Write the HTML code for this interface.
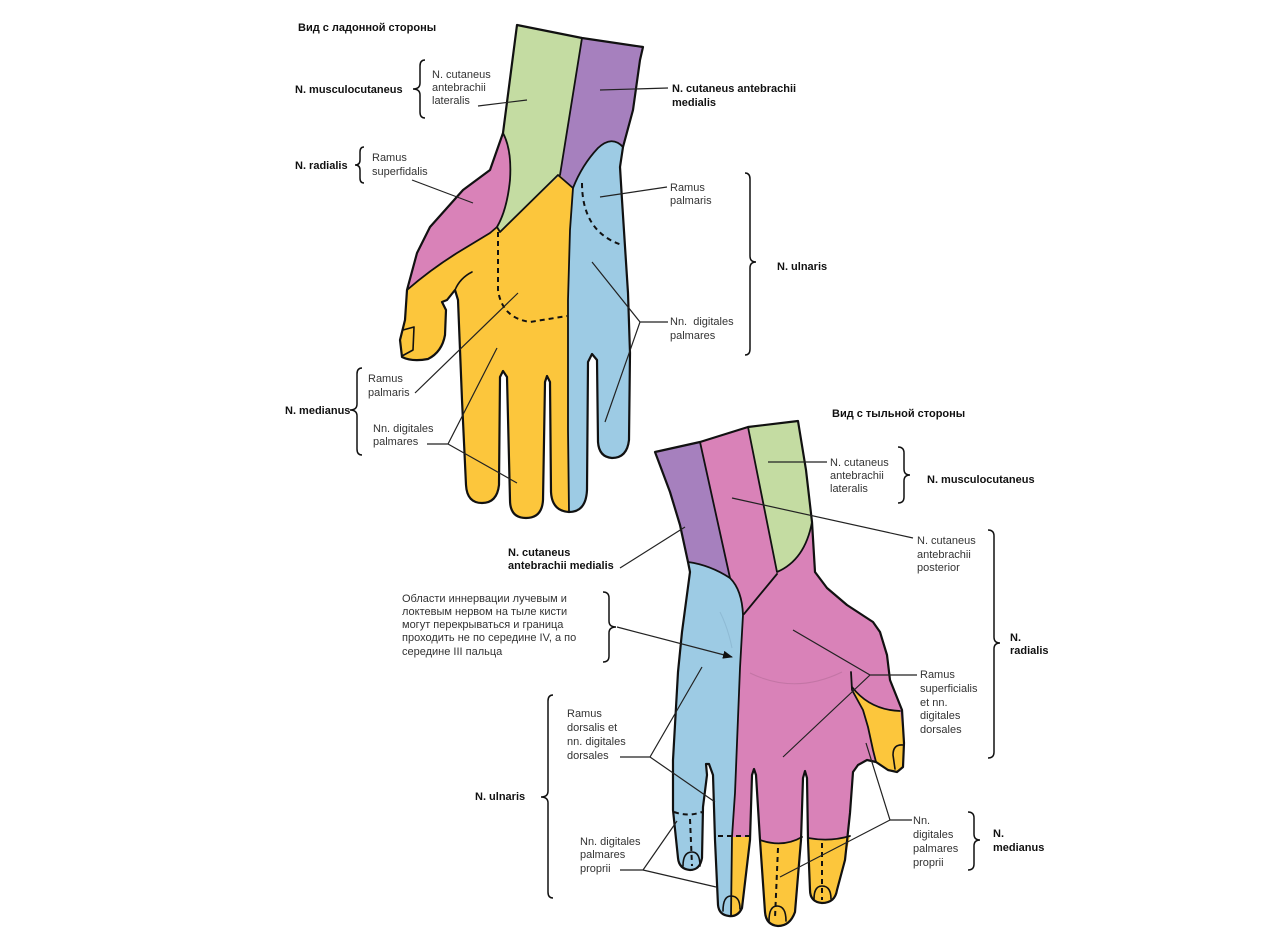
<!DOCTYPE html>
<html>
<head>
<meta charset="utf-8">
<style>
  html,body{margin:0;padding:0;background:#fff;}
  svg{display:block;}
  text{font-family:"Liberation Sans","DejaVu Sans",sans-serif;font-size:11px;fill:#333;}
  text.b{font-weight:bold;fill:#111;}
</style>
</head>
<body>
<svg width="1280" height="943" viewBox="0 0 1280 943" xmlns="http://www.w3.org/2000/svg">
  <defs>
    <marker id="ah" markerWidth="10" markerHeight="8" refX="9" refY="4" orient="auto" markerUnits="userSpaceOnUse">
      <path d="M0,0 L10,4 L0,8 Z" fill="#111"/>
    </marker>
  </defs>
  <rect width="1280" height="943" fill="#fff"/>

  <!-- ================= TOP HAND (palmar) ================= -->
  <g stroke="none">
    <path fill="#fcc63c" d="M517,25 L582,38 L643,47 L640,60 L633,110 L623,147 L620,167 L622,200 L628,293 L630,353 L629,440 Q627,458 612,458 Q599,457 598,442 L597,360 L592,354 L588,362 L587,490 Q586,512 569,512 Q552,511 551,492 L550,382 L547,376 L545,382 L543,500 Q542,518 526,518 Q510,518 510,500 L507,377 L503,371 L500,377 L499,485 Q497,503 482,503 Q467,503 466,485 L462,400 L458,300 L455,290 L447,300 L442,302 L446,310 L445,335 Q442,352 428,359 Q412,362 402,357 L400,340 L405,320 L407,290 L417,253 L430,227 L463,190 L490,170 L503,133 Z"/>
    <path fill="#c4dca2" d="M517,25 L582,38 L560,175 L500,232 L497,227 Q507,210 510,180 Q512,150 503,133 Z"/>
    <path fill="#a680be" d="M582,38 L643,47 L640,60 L633,110 L623,147 Q612,135 598,148 Q582,165 573,188 L560,175 Z"/>
    <path fill="#9dcbe4" d="M573,188 Q582,165 598,148 Q612,135 623,147 L620,167 L622,200 L628,293 L630,353 L629,440 Q627,458 612,458 Q599,457 598,442 L597,360 L592,354 L588,362 L587,490 Q586,512 569,512 L568,430 L568,300 L570,230 Z"/>
    <path fill="#d982b8" d="M503,133 Q512,150 510,180 Q507,210 497,227 L490,233 L457,253 Q430,270 407,290 L417,253 L430,227 L463,190 L490,170 Z"/>
  </g>
  <g fill="none" stroke="#111" stroke-linejoin="round" stroke-linecap="round">
    <path stroke-width="2.2" d="M517,25 L582,38 L643,47 L640,60 L633,110 L623,147 L620,167 L622,200 L628,293 L630,353 L629,440 Q627,458 612,458 Q599,457 598,442 L597,360 L592,354 L588,362 L587,490 Q586,512 569,512 Q552,511 551,492 L550,382 L547,376 L545,382 L543,500 Q542,518 526,518 Q510,518 510,500 L507,377 L503,371 L500,377 L499,485 Q497,503 482,503 Q467,503 466,485 L462,400 L458,300 L455,290 L447,300 L442,302 L446,310 L445,335 Q442,352 428,359 Q412,362 402,357 L400,340 L405,320 L407,290 L417,253 L430,227 L463,190 L490,170 L503,133 Z"/>
    <path stroke-width="1.8" d="M582,38 L560,175"/>
    <path stroke-width="1.8" d="M503,133 Q512,150 510,180 Q507,210 497,227 L500,232 L558,175 L573,188"/>
    <path stroke-width="1.8" d="M623,147 Q612,135 598,148 Q582,165 573,188 L570,230 L568,300 L568,430 L569,512"/>
    <path stroke-width="1.8" d="M407,290 Q430,270 457,253 L490,233 L497,227"/>
    <path stroke-width="1.6" d="M455,290 Q460,278 472,272"/>
    <path stroke-width="1.6" d="M403,330 L414,327 L413,350 L402,356"/>
    <path stroke-width="2" stroke-dasharray="5 4" stroke-linecap="butt" d="M498,232 L498,290 Q502,318 530,322 L567,316"/>
    <path stroke-width="2" stroke-dasharray="5 4" stroke-linecap="butt" d="M582,183 Q582,232 622,245"/>
  </g>

  <!-- top leaders -->
  <g fill="none" stroke="#222" stroke-width="1.2">
    <path d="M478,106 L527,100"/>
    <path d="M600,90 L668,88"/>
    <path d="M412,180 L473,203"/>
    <path d="M600,197 L667,187"/>
    <path d="M592,262 L640,322 L605,422 M640,322 L668,322"/>
    <path d="M415,393 L518,293"/>
    <path d="M427,444 L448,444 L497,348 M448,444 L517,483"/>
  </g>
  <!-- top braces -->
  <g fill="none" stroke="#111" stroke-width="1.5">
    <path d="M425,60 Q420,60 420,66 L420,83 Q420,89 413,89 Q420,89 420,95 L420,112 Q420,118 425,118"/>
    <path d="M364,147 Q360,147 360,152 L360,160 Q360,165 355,165 Q360,165 360,170 L360,178 Q360,183 364,183"/>
    <path d="M362,368 Q357,368 357,374 L357,404 Q357,410 350,410 Q357,410 357,416 L357,449 Q357,455 362,455"/>
    <path d="M745,173 Q750,173 750,179 L750,256 Q750,262 756,262 Q750,262 750,268 L750,349 Q750,355 745,355"/>
  </g>
  <!-- top texts -->
  <text class="b" x="298" y="31">Вид с ладонной стороны</text>
  <text class="b" x="295" y="93">N. musculocutaneus</text>
  <text x="432" y="78">N. cutaneus</text>
  <text x="432" y="91">antebrachii</text>
  <text x="432" y="104">lateralis</text>
  <text class="b" x="295" y="169">N. radialis</text>
  <text x="372" y="161">Ramus</text>
  <text x="372" y="175">superfidalis</text>
  <text class="b" x="672" y="92">N. cutaneus antebrachii</text>
  <text class="b" x="672" y="106">medialis</text>
  <text x="670" y="191">Ramus</text>
  <text x="670" y="204">palmaris</text>
  <text class="b" x="777" y="270">N. ulnaris</text>
  <text x="670" y="325" xml:space="preserve">Nn.  digitales</text>
  <text x="670" y="339">palmares</text>
  <text x="368" y="382">Ramus</text>
  <text x="368" y="396">palmaris</text>
  <text class="b" x="285" y="414">N. medianus</text>
  <text x="373" y="432">Nn. digitales</text>
  <text x="373" y="445">palmares</text>

  <!-- ================= BOTTOM HAND (dorsal) ================= -->
  <g stroke="none">
    <path fill="#d982b8" d="M655,452 L700,442 L748,427 L798,421 L806,470 L812,522 L815,572 L827,588 L847,605 L873,622 L880,632 L887,655 L890,680 L902,710 L904,743 L903,767 L897,772 L888,770 L876,762 L867,760 L858,765 L853,772 L850,813 L845,860 L837,890 Q835,903 822,903 Q810,902 810,890 L808,840 L807,778 L805,771 L803,778 L801,840 L795,912 Q790,926 778,926 Q766,925 765,912 L760,840 L756,775 L754,769 L752,775 L750,840 L742,908 Q738,917 729,916 Q719,915 718,905 L715,840 L713,775 L709,764 L706,764 L707,775 L703,807 L702,858 Q700,870 690,870 Q679,869 678,858 L673,810 L673,760 L678,672 L682,632 L690,572 L688,562 L680,525 L670,492 Z"/>
    <path fill="#a680be" d="M655,452 L700,442 L730,578 Q710,565 688,562 L680,525 L670,492 Z"/>
    <path fill="#c4dca2" d="M748,427 L798,421 L806,470 L812,522 Q805,560 777,572 Z"/>
    <path fill="#9dcbe4" d="M688,562 Q710,565 730,578 Q742,590 743,615 L740,668 L735,793 L732,837 L731,916 Q719,915 718,905 L715,840 L713,775 L709,764 L706,764 L707,775 L703,807 L702,858 Q700,870 690,870 Q679,869 678,858 L673,810 L673,760 L678,672 L682,632 L690,572 Z"/>
    <path fill="#fcc63c" d="M732,837 L750,837 L742,908 Q738,917 731,916 Z"/>
    <path fill="#fcc63c" d="M760,840 Q783,848 802,837 L795,912 Q790,926 778,926 Q766,925 765,912 Z"/>
    <path fill="#fcc63c" d="M808,838 Q830,842 850,836 L845,860 L837,890 Q835,903 822,903 Q810,902 810,890 Z"/>
    <path fill="#fcc63c" d="M852,687 Q870,710 900,711 L904,743 L903,767 L897,772 L888,770 L876,762 L873,750 L868,727 L863,710 Z"/>
  </g>
  <!-- faint marks -->
  <g fill="none" stroke="#a9678f" stroke-width="1" opacity="0.45">
    <path d="M750,673 Q795,695 842,672"/>
  </g>
  <g fill="none" stroke="#7fa9c4" stroke-width="1" opacity="0.5">
    <path d="M720,612 Q728,628 732,648"/>
  </g>
  <g fill="none" stroke="#111" stroke-linejoin="round" stroke-linecap="round">
    <path stroke-width="2.2" d="M655,452 L700,442 L748,427 L798,421 L806,470 L812,522 L815,572 L827,588 L847,605 L873,622 L880,632 L887,655 L890,680 L902,710 L904,743 L903,767 L897,772 L888,770 L876,762 L867,760 L858,765 L853,772 L850,813 L845,860 L837,890 Q835,903 822,903 Q810,902 810,890 L808,840 L807,778 L805,771 L803,778 L801,840 L795,912 Q790,926 778,926 Q766,925 765,912 L760,840 L756,775 L754,769 L752,775 L750,840 L742,908 Q738,917 729,916 Q719,915 718,905 L715,840 L713,775 L709,764 L706,764 L707,775 L703,807 L702,858 Q700,870 690,870 Q679,869 678,858 L673,810 L673,760 L678,672 L682,632 L690,572 L688,562 L680,525 L670,492 Z"/>
    <path stroke-width="1.8" d="M700,442 L730,578"/>
    <path stroke-width="1.8" d="M688,562 Q710,565 730,578 Q742,590 743,615 L740,668 L735,793 L732,837 L731,916"/>
    <path stroke-width="1.8" d="M748,427 L777,572 Q805,560 812,522"/>
    <path stroke-width="1.8" d="M777,574 L744,614"/>
    <path stroke-width="1.8" d="M760,840 Q783,848 802,837"/>
    <path stroke-width="1.8" d="M808,838 Q830,842 850,836"/>
    <path stroke-width="1.8" d="M852,687 Q870,710 900,711"/>
    <path stroke-width="1.8" d="M851,672 L852,690 L863,710 L868,727 L873,750 L876,762"/>
    <!-- nails -->
    <path stroke-width="1.6" d="M683,866 Q683,852 692,852 Q700,852 700,866"/>
    <path stroke-width="1.6" d="M723,911 Q723,896 731,896 Q740,896 740,909"/>
    <path stroke-width="1.6" d="M769,921 Q769,906 777,906 Q786,906 786,921"/>
    <path stroke-width="1.6" d="M814,899 Q814,886 822,886 Q831,886 831,899"/>
    <path stroke-width="1.6" d="M903,745 Q893,744 893,755 L895,769"/>
    <!-- dashed -->
    <g stroke-width="2" stroke-dasharray="5 4" stroke-linecap="butt">
      <path d="M674,812 Q688,817 702,812"/>
      <path d="M690,819 L692,866"/>
      <path d="M718,836 L750,836"/>
      <path d="M778,848 L775,918"/>
      <path d="M822,843 L822,900"/>
    </g>
  </g>

  <!-- bottom leaders -->
  <g fill="none" stroke="#222" stroke-width="1.2">
    <path d="M768,462 L827,462"/>
    <path d="M732,498 L913,538"/>
    <path d="M620,568 L685,527"/>
    <path d="M617,627 L732,657" marker-end="url(#ah)"/>
    <path d="M793,630 L870,675 L783,757 M870,675 L917,675"/>
    <path d="M620,757 L650,757 L702,667 M650,757 L715,802"/>
    <path d="M620,870 L643,870 L677,821 M643,870 L716,887"/>
    <path d="M912,820 L890,820 L866,743 M890,820 L780,877"/>
  </g>
  <!-- bottom braces -->
  <g fill="none" stroke="#111" stroke-width="1.5">
    <path d="M898,447 Q904,447 904,453 L904,469 Q904,475 910,475 Q904,475 904,481 L904,497 Q904,503 898,503"/>
    <path d="M988,530 Q994,530 994,536 L994,637 Q994,643 1000,643 Q994,643 994,649 L994,752 Q994,758 988,758"/>
    <path d="M968,812 Q974,812 974,818 L974,834 Q974,840 980,840 Q974,840 974,846 L974,864 Q974,870 968,870"/>
    <path d="M603,592 Q609,592 609,598 L609,621 Q609,627 616,627 Q609,627 609,633 L609,656 Q609,662 603,662"/>
    <path d="M553,695 Q548,695 548,701 L548,791 Q548,797 541,797 Q548,797 548,803 L548,892 Q548,898 553,898"/>
  </g>
  <!-- bottom texts -->
  <text class="b" x="832" y="417">Вид с тыльной стороны</text>
  <text x="830" y="466">N. cutaneus</text>
  <text x="830" y="479">antebrachii</text>
  <text x="830" y="492">lateralis</text>
  <text class="b" x="927" y="483">N. musculocutaneus</text>
  <text x="917" y="544">N. cutaneus</text>
  <text x="917" y="558">antebrachii</text>
  <text x="917" y="571">posterior</text>
  <text class="b" x="1010" y="641">N.</text>
  <text class="b" x="1010" y="654">radialis</text>
  <text x="920" y="678">Ramus</text>
  <text x="920" y="692">superficialis</text>
  <text x="920" y="706">et nn.</text>
  <text x="920" y="719">digitales</text>
  <text x="920" y="733">dorsales</text>
  <text x="913" y="824">Nn.</text>
  <text x="913" y="838">digitales</text>
  <text x="913" y="852">palmares</text>
  <text x="913" y="866">proprii</text>
  <text class="b" x="993" y="837">N.</text>
  <text class="b" x="993" y="851">medianus</text>
  <text class="b" x="508" y="556">N. cutaneus</text>
  <text class="b" x="508" y="569">antebrachii medialis</text>
  <text x="402" y="602">Области иннервации лучевым и</text>
  <text x="402" y="615">локтевым нервом на тыле кисти</text>
  <text x="402" y="628">могут перекрываться и граница</text>
  <text x="402" y="641">проходить не по середине IV, а по</text>
  <text x="402" y="655">середине III пальца</text>
  <text x="567" y="717">Ramus</text>
  <text x="567" y="731">dorsalis et</text>
  <text x="567" y="745">nn. digitales</text>
  <text x="567" y="759">dorsales</text>
  <text x="580" y="845">Nn. digitales</text>
  <text x="580" y="858">palmares</text>
  <text x="580" y="872">proprii</text>
  <text class="b" x="475" y="800">N. ulnaris</text>
</svg>
</body>
</html>
